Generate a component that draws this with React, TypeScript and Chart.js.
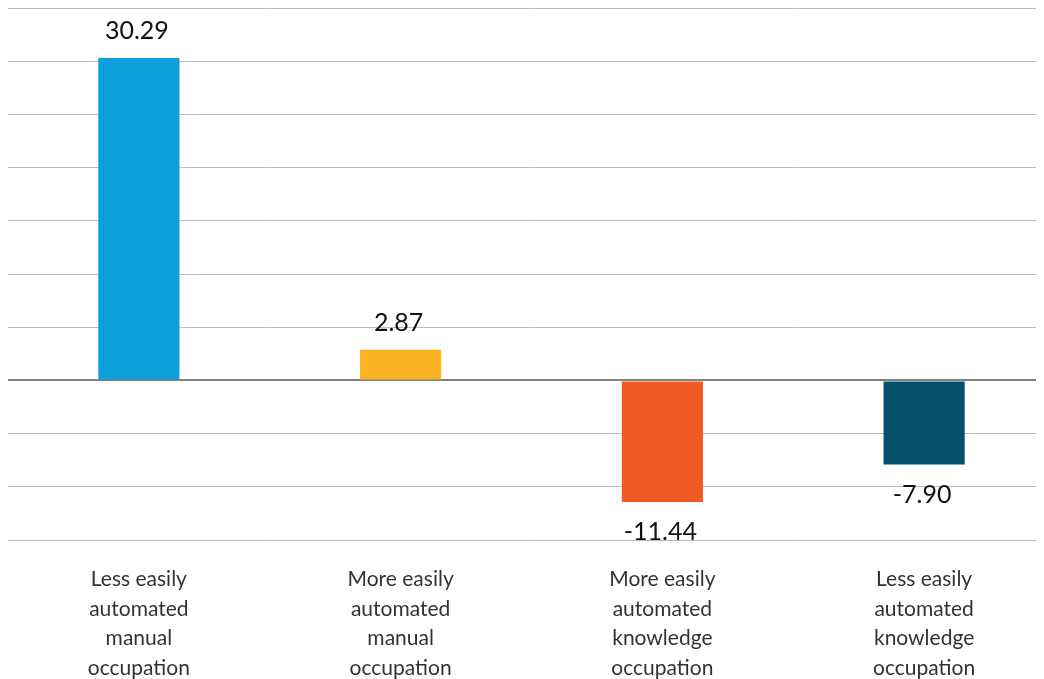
import React, { useEffect, useRef } from "react";
import { Chart, registerables } from "chart.js";

Chart.register(...registerables);

const categories: string[][] = [
  ["Less easily", "automated", "manual", "occupation"],
  ["More easily", "automated", "manual", "occupation"],
  ["More easily", "automated", "knowledge", "occupation"],
  ["Less easily", "automated", "knowledge", "occupation"],
];
const values: number[] = [30.29, 2.87, -11.44, -7.9];
const barColors: string[] = ["#0d9fda", "#fbb324", "#f05a24", "#03506d"];
const yMin = -15;
const yMax = 35;
const yStep = 5;

const valueLabels = {
  id: "valueLabels",
  afterDatasetsDraw(chart: any) {
    const ctx = chart.ctx;
    const meta = chart.getDatasetMeta(0);
    ctx.save();
    ctx.font = "400 25px Lato, 'Open Sans', sans-serif";
    ctx.fillStyle = "#111111";
    ctx.textAlign = "center";
    ctx.textBaseline = "middle";
    meta.data.forEach((bar: any, i: number) => {
      const v = values[i];
      const y = v >= 0 ? bar.y - 27 : bar.y + 30;
      ctx.fillText(v.toFixed(2), bar.x - 2, y);
    });
    ctx.restore();
  },
};

export default function App() {
  const ref = useRef<HTMLCanvasElement>(null);
  useEffect(() => {
    if (!ref.current) return;
    const chart = new Chart(ref.current, {
      type: "bar",
      data: {
        labels: categories,
        datasets: [
          {
            data: values,
            backgroundColor: barColors,
            borderWidth: 0,
            categoryPercentage: 1,
            barPercentage: 0.31,
          },
        ],
      },
      options: {
        animation: false,
        responsive: true,
        maintainAspectRatio: false,
        layout: { padding: { top: 0, left: 0, right: 0, bottom: 0 } },
        plugins: {
          legend: { display: false },
          tooltip: { enabled: false },
        },
        scales: {
          x: {
            grid: { display: false },
            border: { display: false },
            ticks: {
              color: "#333333",
              font: { family: "Lato, 'Open Sans', sans-serif", size: 21, lineHeight: 1.4 },
              padding: 17,
              maxRotation: 0,
              autoSkip: false,
            },
            afterFit: (s: any) => {
              s.height = 139;
            },
          },
          y: {
            min: yMin,
            max: yMax,
            ticks: { display: false, stepSize: yStep },
            border: { display: false },
            grid: {
              drawTicks: false,
              color: (c: any) => (c.tick && c.tick.value === 0 ? "#808080" : "#bdbdbd"),
              lineWidth: (c: any) => (c.tick && c.tick.value === 0 ? 2 : 1),
            },
            afterFit: (s: any) => {
              s.width = 0;
            },
          },
        },
      },
      plugins: [valueLabels],
    });
    return () => chart.destroy();
  }, []);

  return (
    <div style={{ width: 1036, height: 671, overflow: "hidden" }}>
      <div style={{ width: 1047, height: 671, position: "relative" }}>
        <canvas ref={ref} />
      </div>
    </div>
  );
}
